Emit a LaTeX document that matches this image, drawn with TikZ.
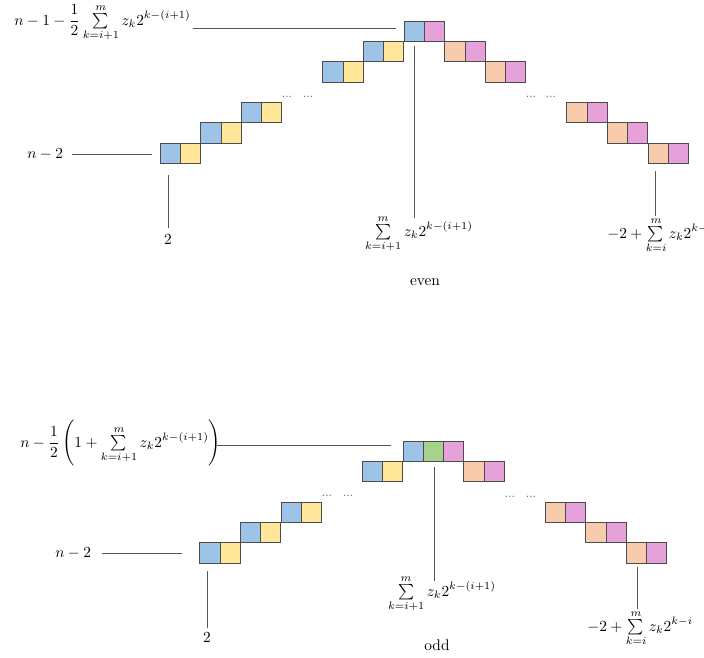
\documentclass[tikz,border=0pt]{standalone}
\usepackage{amsmath}
\definecolor{cblue}{HTML}{9DC3E6}
\definecolor{cyellow}{HTML}{FFE699}
\definecolor{cpink}{HTML}{E6A0DA}
\definecolor{cpeach}{HTML}{F8CBAD}
\definecolor{cgreen}{HTML}{A9D18E}
\definecolor{cline}{HTML}{555555}
\definecolor{cdots}{HTML}{4A5A8A}
\newcommand\tsum{\mathop{\textstyle\sum}\limits}
\newcommand\sqpair[5]{%
  \node[sqbox,fill=#4] (#1a) at (#2,#3) {};
  \node[sqbox,fill=#5,anchor=north west] (#1b) at (#1a.north east) {};}
\begin{document}
\begin{tikzpicture}[x=0.65pt,y=-0.65pt,
  sqbox/.style={draw=black!70,line width=0.6pt,anchor=north west,minimum size=13.2pt,inner sep=0pt,outer sep=0pt},
  lbl/.style={inner sep=0pt},
  conn/.style={draw=cline,line width=0.6pt},
  dotsL/.style={inner sep=0pt,font=\tiny\bfseries,text=cdots},
  dotsR/.style={inner sep=0pt,font=\tiny\bfseries,text=cdots}]
\useasboundingbox (0,0) rectangle (704,658);
% ================= even =================
\node[sqbox,fill=cblue] (et1) at (404,21) {};
\node[sqbox,fill=cpink] (et2) at (et1.north east) {};
\sqpair{el2}{363.3}{41.3}{cblue}{cyellow}
\sqpair{el3}{322.7}{61.7}{cblue}{cyellow}
\sqpair{el5}{241.3}{102.3}{cblue}{cyellow}
\sqpair{el6}{200.7}{122.7}{cblue}{cyellow}
\sqpair{el7}{160}{143}{cblue}{cyellow}
\sqpair{er2}{444.7}{41.3}{cpeach}{cpink}
\sqpair{er3}{485.3}{61.7}{cpeach}{cpink}
\sqpair{er5}{566.7}{102.3}{cpeach}{cpink}
\sqpair{er6}{607.3}{122.7}{cpeach}{cpink}
\sqpair{er7}{648}{143}{cpeach}{cpink}
\node[dotsL] (ed1) at (287,97) {...};
\node[dotsL] (ed2) at (308,97) {...};
\node[dotsR] (ed3) at (531,97) {...};
\node[dotsR] (ed4) at (551,97) {...};
% labels
\node[lbl,anchor=base west] (eL1) at (14,25) {$\displaystyle n-1-\frac{1}{2}\tsum_{k=i+1}^{m} z_k 2^{k-(i+1)}$};
\coordinate (eL1e) at (193,28.5);
\coordinate (eT1) at (396,28.5);
\draw[conn] (eL1e) -- (eT1);
\node[lbl,anchor=west] (eL2) at (27,154) {$n-2$};
\coordinate (eL2e) at (72,154);
\coordinate (eT2) at (152,154);
\draw[conn] (eL2e) -- (eT2);
\coordinate (eV1a) at (168,175);
\coordinate (eV1b) at (168,228);
\draw[conn] (eV1a) -- (eV1b);
\node[lbl] (eL3) at (168,240) {$2$};
\coordinate (eV2a) at (414,46);
\coordinate (eV2b) at (414,218);
\draw[conn] (eV2a) -- (eV2b);
\node[lbl,anchor=base] (eL4) at (419,236) {$\displaystyle\tsum_{k=i+1}^{m} z_k 2^{k-(i+1)}$};
\coordinate (eV3a) at (655,171);
\coordinate (eV3b) at (655,216);
\draw[conn] (eV3a) -- (eV3b);
\node[lbl,anchor=base west] (eL5) at (607,238) {$\displaystyle -2+\tsum_{k=i}^{m} z_k 2^{k-i}$};
\node[lbl] (eT) at (425,282) {even};
% ================= odd =================
\node[sqbox,fill=cblue] (ot1) at (403,441) {};
\node[sqbox,fill=cgreen] (ot2) at (ot1.north east) {};
\node[sqbox,fill=cpink] (ot3) at (ot2.north east) {};
\sqpair{ol2}{362.3}{461.3}{cblue}{cyellow}
\sqpair{ol4}{281}{502}{cblue}{cyellow}
\sqpair{ol5}{240.3}{522.3}{cblue}{cyellow}
\sqpair{ol6}{199.7}{542.7}{cblue}{cyellow}
\sqpair{or2}{463.7}{461.3}{cpeach}{cpink}
\sqpair{or4}{545}{502}{cpeach}{cpink}
\sqpair{or5}{585.7}{522.3}{cpeach}{cpink}
\sqpair{or6}{626.3}{542.7}{cpeach}{cpink}
\node[dotsL] (od1) at (327,496) {...};
\node[dotsL] (od2) at (348,496) {...};
\node[dotsR] (od3) at (510,497) {...};
\node[dotsR] (od4) at (531,497) {...};
\node[lbl,anchor=base west] (oL1) at (20,447) {$\displaystyle n-\frac{1}{2}\left(1+\tsum_{k=i+1}^{m} z_k 2^{k-(i+1)}\right)$};
\coordinate (oL1e) at (217,445);
\coordinate (oT1) at (391,445);
\draw[conn] (oL1e) -- (oT1);
\node[lbl,anchor=west] (oL2) at (55,553) {$n-2$};
\coordinate (oL2e) at (102,553);
\coordinate (oT2) at (182,553);
\draw[conn] (oL2e) -- (oT2);
\coordinate (oV1a) at (207,571);
\coordinate (oV1b) at (207,628);
\draw[conn] (oV1a) -- (oV1b);
\node[lbl] (oL3) at (207,638) {$2$};
\coordinate (oV2a) at (434,467);
\coordinate (oV2b) at (434,581);
\draw[conn] (oV2a) -- (oV2b);
\node[lbl,anchor=base] (oL4) at (442,596) {$\displaystyle\tsum_{k=i+1}^{m} z_k 2^{k-(i+1)}$};
\coordinate (oV3a) at (637,567);
\coordinate (oV3b) at (637,609);
\draw[conn] (oV3a) -- (oV3b);
\node[lbl,anchor=base west] (oL5) at (587,631) {$\displaystyle -2+\tsum_{k=i}^{m} z_k 2^{k-i}$};
\node[lbl] (oT) at (437,645) {odd};
\end{tikzpicture}
\end{document}
